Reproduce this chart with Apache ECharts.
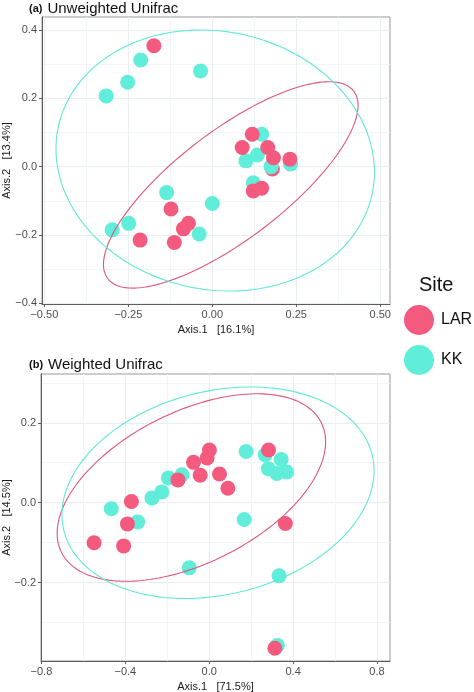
<!DOCTYPE html>
<html><head><meta charset="utf-8">
<script src="https://cdn.jsdelivr.net/npm/echarts@6/dist/echarts.min.js"></script>
<style>html,body{margin:0;padding:0;background:#fff}#c{width:474px;height:692px}</style>
</head><body><div id="c"></div>
<script>
// ---------- data ----------
const groups = ['LAR', 'KK'];

// Panel (a) Unweighted Unifrac : [Axis.1, Axis.2]
const aLAR = [
  [-0.174, 0.354], [0.119, 0.095], [0.089, 0.056], [0.165, 0.056], [0.182, 0.026],
  [0.231, 0.022], [0.122, -0.071], [0.147, -0.063], [-0.123, -0.124], [-0.071, -0.166],
  [-0.086, -0.182], [-0.113, -0.222], [-0.215, -0.215]
];
const aLARunder = [[0.179, -0.007]];
const aKK = [
  [-0.213, 0.312], [-0.252, 0.247], [-0.316, 0.207], [-0.035, 0.280], [0.147, 0.095],
  [0.134, 0.034], [0.100, 0.017], [0.175, 0.0], [0.233, 0.008], [0.122, -0.047],
  [0.0, -0.108], [-0.039, -0.197], [-0.136, -0.076], [-0.249, -0.166], [-0.298, -0.185]
];
// ellipse: [centre x, centre y, x half-extent, y half-extent, phase]
const aEllLAR = [0.055, -0.0535, 0.379, 0.302, 0.88];
const aEllKK = [0.0086, 0.018, 0.474, 0.382, -0.09];
const aXTicks = [-0.5, -0.25, 0, 0.25, 0.5];
const aXMinor = [-0.375, -0.125, 0.125, 0.375];
const aYTicks = [-0.4, -0.2, 0, 0.2, 0.4];
const aYMinor = [-0.3, -0.1, 0.1, 0.3];
const aXRange = [-0.507, 0.529];
const aYRange = [-0.402, 0.438];

// Panel (b) Weighted Unifrac
const bLAR = [
  [-0.371, 0.003], [-0.149, 0.057], [-0.075, 0.101], [-0.043, 0.069], [0.001, 0.132],
  [-0.010, 0.112], [0.049, 0.072], [0.089, 0.036], [0.283, 0.132], [-0.390, -0.053],
  [-0.549, -0.100], [-0.408, -0.108], [0.363, -0.052], [0.313, -0.364]
];
const bKK = [
  [-0.467, -0.015], [-0.341, -0.048], [-0.273, 0.012], [-0.226, 0.027], [-0.194, 0.062],
  [-0.130, 0.070], [-0.095, -0.163], [0.167, -0.042], [0.176, 0.128], [0.267, 0.120],
  [0.343, 0.108], [0.282, 0.085], [0.322, 0.073], [0.369, 0.077], [0.333, -0.183],
  [0.325, -0.357]
];
const bEllLAR = [-0.085, 0.038, 0.640, 0.2345, 0.51];
const bEllKK = [0.042, 0.025, 0.744, 0.2645, 0.21];
const bXTicks = [-0.8, -0.4, 0, 0.4, 0.8];
const bXMinor = [-0.6, -0.2, 0.2, 0.6];
const bYTicks = [-0.2, 0, 0.2];
const bYMinor = [-0.3, -0.1, 0.1, 0.3];
const bXRange = [-0.802, 0.862];
const bYRange = [-0.396, 0.322];

// ---------- chart ----------
const FONT = "'Liberation Sans', Arial, Helvetica, sans-serif";
const COL = { LAR: '#F45A7D', KK: '#60EDDA' };
const LINE = { LAR: '#E0557A', KK: '#5FE8D6' };

function ellipse(p) {
  const [cx, cy, rx, ry, ph] = p, out = [];
  for (let i = 0; i <= 180; i++) {
    const t = i / 180 * 2 * Math.PI;
    out.push([cx + rx * Math.cos(t), cy + ry * Math.sin(t + ph)]);
  }
  return out;
}
function fmt(d) { return v => (v < 0 ? '\u2212' : '') + Math.abs(v).toFixed(d); }
function mainAxis(gi, range, ticks, dec, name, gap, isY) {
  return {
    type: 'value', gridIndex: gi, min: range[0], max: range[1],
    position: isY ? 'left' : 'bottom',
    name: name, nameLocation: 'middle', nameGap: gap, nameMoveOverlap: false,
    nameTextStyle: { fontFamily: FONT, fontSize: 11, color: '#1a1a1a' },
    axisLine: { show: true, onZero: false, lineStyle: { color: '#5c5c5c', width: 1 } },
    axisTick: { show: true, length: 3, customValues: ticks, lineStyle: { color: '#5c5c5c' } },
    axisLabel: { customValues: ticks, formatter: fmt(dec), margin: 5, color: '#4d4d4d',
      fontFamily: FONT, fontSize: 11 },
    splitLine: { show: true, lineStyle: { color: '#E9EEF2', width: 1 } }
  };
}
function minorAxis(gi, range, ticks, isY) {
  return {
    type: 'value', gridIndex: gi, min: range[0], max: range[1],
    position: isY ? 'left' : 'bottom',
    axisLine: { show: false }, axisTick: { show: false, customValues: ticks },
    axisLabel: { show: false, customValues: ticks },
    splitLine: { show: true, lineStyle: { color: '#F2F5F8', width: 1 } }
  };
}
function pts(name, data, xi, yi, z) {
  return { type: 'scatter', name: name, data: data, xAxisIndex: xi, yAxisIndex: yi,
    symbolSize: 15, z: z, itemStyle: { color: COL[name], opacity: 1 }, emphasis: { disabled: true } };
}
function ell(name, p, xi, yi) {
  return { type: 'line', name: name + ' ellipse', data: ellipse(p), xAxisIndex: xi, yAxisIndex: yi,
    showSymbol: false, smooth: false, z: 5, silent: true,
    lineStyle: { color: LINE[name], width: 1.1 } };
}
const richTitle = {
  b: { fontFamily: FONT, fontWeight: 'bold', fontSize: 11, color: '#111' },
  n: { fontFamily: FONT, fontWeight: 'normal', fontSize: 15, color: '#111' }
};

const chart = echarts.init(document.getElementById('c'), null, { renderer: 'canvas' });
chart.setOption({
  animation: false,
  backgroundColor: '#ffffff',
  title: [
    { text: '{b|(a)} {n|Unweighted Unifrac}', left: 29, top: 0, padding: 0,
      textStyle: { fontWeight: 'normal', rich: richTitle } },
    { text: '{b|(b)} {n|Weighted Unifrac}', left: 29, top: 356, padding: 0,
      textStyle: { fontWeight: 'normal', rich: richTitle } },
    { text: 'Site', left: 419, top: 275, padding: 0,
      textStyle: { fontFamily: FONT, fontSize: 20, fontWeight: 'normal', color: '#111' } }
  ],
  legend: {
    data: groups, orient: 'vertical', left: 404, top: 305, padding: 0,
    itemWidth: 30, itemHeight: 30, itemGap: 10, icon: 'circle', selectedMode: false,
    textStyle: { fontFamily: FONT, fontSize: 16, color: '#111', padding: [0, 0, 0, 2] }
  },
  grid: [
    { left: 42, top: 17, width: 348, height: 287, containLabel: false, outerBoundsMode: 'none',
      show: true, borderColor: '#9a9a9a', borderWidth: 1, backgroundColor: 'transparent' },
    { left: 41, top: 374, width: 349, height: 287, containLabel: false, outerBoundsMode: 'none',
      show: true, borderColor: '#9a9a9a', borderWidth: 1, backgroundColor: 'transparent' }
  ],
  xAxis: [
    mainAxis(0, aXRange, aXTicks, 2, 'Axis.1   [16.1%]', 20, false),
    minorAxis(0, aXRange, aXMinor, false),
    mainAxis(1, bXRange, bXTicks, 1, 'Axis.1   [71.5%]', 20, false),
    minorAxis(1, bXRange, bXMinor, false)
  ],
  yAxis: [
    mainAxis(0, aYRange, aYTicks, 1, 'Axis.2   [13.4%]', 30, true),
    minorAxis(0, aYRange, aYMinor, true),
    mainAxis(1, bYRange, bYTicks, 1, 'Axis.2   [14.5%]', 29, true),
    minorAxis(1, bYRange, bYMinor, true)
  ],
  series: [
    pts('LAR', aLARunder, 0, 0, 2),
    pts('KK', aKK, 0, 0, 3),
    pts('LAR', aLAR, 0, 0, 4),
    ell('LAR', aEllLAR, 0, 0),
    ell('KK', aEllKK, 0, 0),
    pts('KK', bKK, 2, 2, 3),
    pts('LAR', bLAR, 2, 2, 4),
    ell('LAR', bEllLAR, 2, 2),
    ell('KK', bEllKK, 2, 2)
  ]
});
</script>
</body></html>
